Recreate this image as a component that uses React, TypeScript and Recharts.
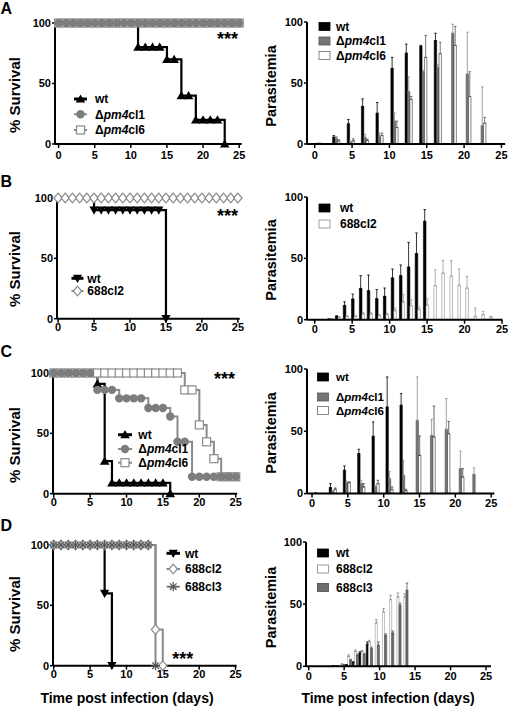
import type { ReactElement } from "react";
import { Bar, ComposedChart, ErrorBar, Line, XAxis, YAxis } from "recharts";

const FONT = "'Liberation Sans', Arial, Helvetica, sans-serif";
const GREY = "#8a8a8a";
const BAR_GREY = "#757575";

const DAY_TICKS = [0, 5, 10, 15, 20, 25];
const PCT_TICKS = [0, 50, 100];

// ---------- survival curves (left column) ----------
const ALL_DAYS = [0, 1, 2, 3, 4, 5, 6, 7, 8, 9, 10, 11, 12, 13, 14, 15, 16, 17, 18, 19, 20, 21, 22, 23, 24, 25];

const aWtDays = [0, 11, 12, 13, 14, 15, 16, 17, 18, 19, 20, 21, 22, 23];
const aWtSurv = [100, 80, 80, 80, 80, 70, 70, 40, 40, 20, 20, 20, 20, 0];
const aCl1Surv = [100, 100, 100, 100, 100, 100, 100, 100, 100, 100, 100, 100, 100, 100, 100, 100, 100, 100, 100, 100, 100, 100, 100, 100, 100, 100];
const aCl6Surv = [100, 100, 100, 100, 100, 100, 100, 100, 100, 100, 100, 100, 100, 100, 100, 100, 100, 100, 100, 100, 100, 100, 100, 100, 100, 100];

const bWtDays = [0, 5, 6, 7, 8, 9, 10, 11, 12, 13, 14, 15];
const bWtSurv = [100, 90, 90, 90, 90, 90, 90, 90, 90, 90, 90, 0];
const b688cl2Surv = [100, 100, 100, 100, 100, 100, 100, 100, 100, 100, 100, 100, 100, 100, 100, 100, 100, 100, 100, 100, 100, 100, 100, 100, 100, 100];

const cWtDays = [0, 6, 7, 8, 9, 10, 11, 12, 13, 14, 15, 16];
const cWtSurv = [100, 91, 27, 9, 9, 9, 9, 9, 9, 9, 9, 0];
const cCl1Surv = [100, 100, 100, 100, 100, 100, 86, 86, 86, 79, 79, 79, 79, 71, 71, 71, 64, 43, 43, 14, 14, 14, 14, 14, 14, 14];
const cCl6Surv = [100, 100, 100, 100, 100, 100, 100, 100, 100, 100, 100, 100, 100, 100, 100, 100, 100, 100, 86, 86, 57, 43, 29, 14, 14, 14];

const dWtDays = [0, 7, 8];
const dWtSurv = [100, 60, 0];
const d688cl2Days = [0, 1, 2, 3, 4, 5, 6, 7, 8, 9, 10, 11, 12, 13, 14, 15];
const d688cl2Surv = [100, 100, 100, 100, 100, 100, 100, 100, 100, 100, 100, 100, 100, 100, 30, 0];
const d688cl3Days = [0, 1, 2, 3, 4, 5, 6, 7, 8, 9, 10, 11, 12, 13, 14];
const d688cl3Surv = [100, 100, 100, 100, 100, 100, 100, 100, 100, 100, 100, 100, 100, 100, 0];

// ---------- parasitemia (right column) ----------
const aParDays = [0.7, 2.95, 4.9, 6.8, 8.75, 10.75, 12.65, 14.6, 16.55, 18.55, 20.5, 22.5];
const aWtPar = [0.3, 5.5, 16.5, 30.8, 25.2, 62, 74.4, 80, 84.8, null, null, null];
const aWtErr = [0.2, 1.4, 3.6, 6.2, 8.8, 9, 7.5, 0.8, 6, null, null, null];
const aCl1Par = [0.5, 4.8, 1.4, 5.5, 6.5, 18.8, 43, 59.5, 63, 90.8, 57.4, 15];
const aCl1Err = [0.3, 1.3, 0.8, 2.5, 2.4, 6.8, 12, 1, 2.2, 7.4, 34.2, 31.8];
const aCl6Par = [0.3, 2.6, 2.6, 2.9, 7, 13.6, 36.4, 71, 74, 80.8, 39, 17];
const aCl6Err = [0.2, 0.8, 1.6, 1, 2, 5.2, 2.5, 18, 9.4, 15.6, 20.2, 4.8];

const bParDays = [2.1, 3.15, 4.2, 5.3, 6.35, 7.4, 8.5, 9.55, 10.6, 11.7, 12.75, 13.8, 14.9, 15.95, 17.0, 18.1, 19.15, 20.2, 21.3, 22.35, 23.4];
const bWtPar = [0.4, 2.7, 11.6, 16.8, 25.5, 23.6, 17.1, 19, 34, 35.9, 42.9, 53.8, 80.2, null, null, null, null, null, null, null, null];
const bWtErr = [0.2, 0.6, 3, 4.1, 10.4, 12.8, 7.4, 6.8, 7.3, 8.7, 20.1, 16.9, 9.5, null, null, null, null, null, null, null, null];
const b688cl2Par = [0.6, 1.9, 2.7, 2.7, 4.6, 4.6, 3.3, 4.1, 7.3, 14.4, 11.4, 8.2, 11.7, 27.7, 38, 35.6, 28, 25.8, 2.7, 4.1, 2.2];
const b688cl2Err = [0.3, 0.5, 0.5, 0.8, 1.4, 1, 1, 1.2, 2.2, 6, 4.9, 2.1, 5.4, 13, 10.4, 12.6, 13.3, 9.5, 6.8, 2.7, 0.5];

const cParDays = [0.9, 2.93, 4.89, 6.9, 8.9, 10.85, 12.8, 14.72, 16.72, 18.77, 20.73, 22.63];
const cWtPar = [0.4, 4.8, 18.7, 32.1, 46, 69.5, 70.9, null, null, null, null, null];
const cWtErr = [0.2, 3.2, 3.5, 3.5, 11.5, 24.1, 9.3, null, null, null, null, null];
const cCl1Par = [null, 1.9, 8.8, 8, 5.3, 12, 14.7, 58.8, 46.8, 51.6, 20, 15.5];
const cCl1Err = [null, 0.5, 1.1, 2.7, 1, 5.9, 12, 34.8, 12.8, 24.6, 14, 5.1];
const cCl6Par = [null, 3.5, 8.8, 5.3, 8, 3.2, 2.4, 30.7, 45.5, 48.1, 13.4, null];
const cCl6Err = [null, 1, 0.6, 2.7, 2.7, 2.1, 1.1, 15.6, 24.8, 9.9, 6.6, null];

const dParDays = [3.75, 4.72, 5.65, 6.6, 7.55, 8.58, 9.55, 10.57, 11.57, 12.6, 13.58];
const dWtPar = [0.3, null, 1, 3, 10.7, 17.7, null, null, null, null, null];
const dWtErr = [0.1, null, 0.4, 0.6, 1, 1.9, null, null, null, null, null];
const d688cl2Par = [0.4, 1.6, 8, 11.8, 12, 19.6, 34.9, 43.7, 53.6, 55.8, 55.8];
const d688cl2Err = [0.2, 0.4, 1.2, 1.4, 0.8, 1.3, 2.6, 2.7, 3.5, 3.2, 2.5];
const d688cl3Par = [0.3, 1.1, 4.8, 8.8, 9.5, 14.2, 16.9, 24.9, 26.8, 49.1, 61.1];
const d688cl3Err = [0.1, 0.3, 0.8, 1, 1, 1.3, 2.7, 1.2, 1.6, 1.8, 5.9];

// ---------- layout helpers ----------
type Geo = { left: number; right: number; top: number; bottom: number; x0: number; x1: number; tickGap: number };

const PAD_L = 50;
const PAD_T = 12;
const PAD_R = 12;
const PAD_B = 30;

const geoA1: Geo = { left: 55, right: 241.7, top: 23.3, bottom: 144.3, x0: -0.5, x1: 25.35, tickGap: 3 };
const geoB1: Geo = { left: 57.3, right: 240, top: 198.3, bottom: 319, x0: -0.15, x1: 25.25, tickGap: 1 };
const geoC1: Geo = { left: 53.3, right: 237.5, top: 373.3, bottom: 494, x0: -0.1, x1: 25.2, tickGap: 1 };
const geoD1: Geo = { left: 52.7, right: 236.3, top: 545, bottom: 665.7, x0: -0.1, x1: 25.15, tickGap: 1 };
const geoA2: Geo = { left: 307.3, right: 505.5, top: 22, bottom: 144, x0: -1.03, x1: 25.5, tickGap: 3 };
const geoB2: Geo = { left: 307.3, right: 502.7, top: 197.3, bottom: 320, x0: -1.03, x1: 25.05, tickGap: 2 };
const geoC2: Geo = { left: 307.3, right: 494.7, top: 368.7, bottom: 493.3, x0: -0.7, x1: 25.45, tickGap: 2 };
const geoD2: Geo = { left: 306.3, right: 491.3, top: 541.7, bottom: 666, x0: -0.38, x1: 25.7, tickGap: 2 };

function chartBox(g: Geo) {
  return {
    style: { position: "absolute" as const, left: g.left - PAD_L, top: g.top - PAD_T },
    width: g.right - g.left + PAD_L + PAD_R,
    height: g.bottom - g.top + PAD_T + PAD_B,
    margin: { top: PAD_T, right: PAD_R, bottom: 0, left: 0 },
  };
}

const axisStroke = { stroke: "#000", strokeWidth: 2 };
const tickStroke = { stroke: "#000", strokeWidth: 1.5 };
const tickFont = { fill: "#000", fontSize: 11, fontWeight: 700, fontFamily: FONT };

function xAxisFor(g: Geo) {
  return (
    <XAxis
      axisLine={axisStroke}
      dataKey="x"
      domain={[g.x0, g.x1]}
      height={PAD_B}
      interval={0}
      tick={tickFont}
      tickLine={tickStroke}
      tickMargin={g.tickGap}
      tickSize={4}
      ticks={DAY_TICKS}
      type="number"
    />
  );
}

function yAxisFor() {
  return (
    <YAxis
      axisLine={axisStroke}
      domain={[0, 100]}
      interval={0}
      tick={tickFont}
      tickLine={tickStroke}
      tickMargin={1}
      tickSize={3}
      ticks={PCT_TICKS}
      type="number"
      width={PAD_L}
    />
  );
}

// ---------- markers ----------
type Shape = "tri" | "triDown" | "circle" | "square" | "diamond" | "star";

function Marker({ shape, cx, cy, color }: { shape: Shape; cx: number; cy: number; color: string }) {
  switch (shape) {
    case "tri":
      return <path d={`M${cx},${cy - 4.6}L${cx + 4.8},${cy + 3.6}L${cx - 4.8},${cy + 3.6}Z`} fill={color} />;
    case "triDown":
      return <path d={`M${cx},${cy + 4.6}L${cx + 4.6},${cy - 3.6}L${cx - 4.6},${cy - 3.6}Z`} fill={color} />;
    case "circle":
      return <circle cx={cx} cy={cy} fill={color} r={4.2} />;
    case "square":
      return <rect fill="#fff" height={8} stroke={color} strokeWidth={1.2} width={8} x={cx - 4} y={cy - 4} />;
    case "diamond":
      return (
        <path
          d={`M${cx},${cy - 4.8}L${cx + 4.2},${cy}L${cx},${cy + 4.8}L${cx - 4.2},${cy}Z`}
          fill="#fff"
          stroke={color}
          strokeWidth={1.2}
        />
      );
    default:
      return (
        <g stroke={color} strokeWidth={1.2}>
          <line x1={cx - 4.6} x2={cx + 4.6} y1={cy} y2={cy} />
          <line x1={cx} x2={cx} y1={cy - 4.6} y2={cy + 4.6} />
          <line x1={cx - 3.3} x2={cx + 3.3} y1={cy - 3.3} y2={cy + 3.3} />
          <line x1={cx - 3.3} x2={cx + 3.3} y1={cy + 3.3} y2={cy - 3.3} />
        </g>
      );
  }
}

// ---------- survival chart ----------
type Curve = {
  name: string;
  days: number[];
  surv: number[];
  color: string;
  width: number;
  shape: Shape;
  markerColor: string;
  skipFirst?: boolean;
};

function SurvivalChart({ g, curves }: { g: Geo; curves: Curve[] }) {
  const box = chartBox(g);

  return (
    <div style={box.style}>
      <ComposedChart height={box.height} margin={box.margin} width={box.width}>
        {xAxisFor(g)}
        {yAxisFor()}
        {curves.map((c) => (
          <Line
            activeDot={false}
            data={c.days.map((x, i) => ({ x, y: c.surv[i] }))}
            dataKey="y"
            dot={(p: any): ReactElement => {
              if (c.skipFirst && p.index === 0) {
                return <g key={`${c.name}-${p.index}`} />;
              }
              return <Marker key={`${c.name}-${p.index}`} color={c.markerColor} cx={p.cx} cy={p.cy} shape={c.shape} />;
            }}
            isAnimationActive={false}
            key={c.name}
            stroke={c.color}
            strokeWidth={c.width}
            type="stepAfter"
          />
        ))}
      </ComposedChart>
    </div>
  );
}

// ---------- parasitemia chart ----------
type BarSeries = { key: string; values: (number | null)[]; errors: (number | null)[]; fill: string; stroke: string; errColor: string };

function ParasitemiaChart({ g, days, series, barSize }: { g: Geo; days: number[]; series: BarSeries[]; barSize: number }) {
  const box = chartBox(g);
  const rows = days.map((x, i) => {
    const row: Record<string, unknown> = { x };
    series.forEach((s) => {
      row[s.key] = s.values[i];
      row[`${s.key}Err`] = s.errors[i] == null ? undefined : [0, s.errors[i]];
    });
    return row;
  });

  return (
    <div style={box.style}>
      <ComposedChart barGap={0} barSize={barSize} data={rows} height={box.height} margin={box.margin} width={box.width}>
        {xAxisFor(g)}
        {yAxisFor()}
        {series.map((s) => (
          <Bar dataKey={s.key} fill={s.fill} isAnimationActive={false} key={s.key} stroke={s.stroke} strokeWidth={0.6}>
            <ErrorBar dataKey={`${s.key}Err`} direction="y" stroke={s.errColor} strokeWidth={0.8} width={1.3} />
          </Bar>
        ))}
      </ComposedChart>
    </div>
  );
}

// ---------- overlay text ----------
type Piece = [string, boolean];
const WT: Piece[] = [["wt", false]];
const CL1: Piece[] = [["Δ", false], ["pm4", true], ["cl1", false]];
const CL6: Piece[] = [["Δ", false], ["pm4", true], ["cl6", false]];
const P688CL2: Piece[] = [["688cl2", false]];
const P688CL3: Piece[] = [["688cl3", false]];

const bold = { fontFamily: FONT, fontWeight: 700, fill: "#000" };

function Label({ x, y, pieces, size = 12 }: { x: number; y: number; pieces: Piece[]; size?: number }) {
  return (
    <text {...bold} fontSize={size} x={x} y={y + size * 0.36}>
      {pieces.map(([t, it], i) => (
        <tspan fontStyle={it ? "italic" : "normal"} key={i}>
          {t}
        </tspan>
      ))}
    </text>
  );
}

type SurvRow = { y: number; shape: Shape; color: string; lineColor: string; lineWidth: number; label: Piece[] };

function SurvivalLegend({ x1, x2, tx, rows }: { x1: number; x2: number; tx: number; rows: SurvRow[] }) {
  return (
    <g>
      {rows.map((r, i) => (
        <g key={i}>
          <line stroke={r.lineColor} strokeWidth={r.lineWidth} x1={x1} x2={x2} y1={r.y} y2={r.y} />
          <Marker color={r.color} cx={(x1 + x2) / 2} cy={r.y} shape={r.shape} />
          <Label pieces={r.label} x={tx} y={r.y} />
        </g>
      ))}
    </g>
  );
}

type BarRow = { y: number; fill: string; stroke: string; label: Piece[] };

function BarLegend({ x, tx, rows, size = 12 }: { x: number; tx: number; rows: BarRow[]; size?: number }) {
  return (
    <g>
      {rows.map((r, i) => (
        <g key={i}>
          <rect fill={r.fill} height={8} stroke={r.stroke} strokeWidth={0.8} width={11} x={x} y={r.y - 4} />
          <Label pieces={r.label} size={size} x={tx} y={r.y} />
        </g>
      ))}
    </g>
  );
}

function YTitle({ x, y, text, size }: { x: number; y: number; text: string; size: number }) {
  return (
    <text {...bold} fontSize={size} textAnchor="middle" transform={`translate(${x},${y}) rotate(-90)`}>
      {text}
    </text>
  );
}

export default function App() {
  const wtLine = { color: "#000", lineColor: "#000", lineWidth: 3 };

  return (
    <div style={{ position: "absolute", left: 0, top: 0, width: 508, height: 710, background: "#fff", fontFamily: FONT }}>
      <SurvivalChart
        curves={[
          { name: "wt", days: aWtDays, surv: aWtSurv, color: "#000", width: 2.2, shape: "tri", markerColor: "#000", skipFirst: true },
          { name: "cl6", days: ALL_DAYS, surv: aCl6Surv, color: GREY, width: 2, shape: "square", markerColor: GREY },
          { name: "cl1", days: ALL_DAYS, surv: aCl1Surv, color: GREY, width: 2, shape: "circle", markerColor: "#7d7d7d" },
        ]}
        g={geoA1}
      />
      <SurvivalChart
        curves={[
          { name: "wt", days: bWtDays, surv: bWtSurv, color: "#000", width: 2.2, shape: "triDown", markerColor: "#000", skipFirst: true },
          { name: "688cl2", days: ALL_DAYS, surv: b688cl2Surv, color: GREY, width: 2, shape: "diamond", markerColor: GREY },
        ]}
        g={geoB1}
      />
      <SurvivalChart
        curves={[
          { name: "wt", days: cWtDays, surv: cWtSurv, color: "#000", width: 2.2, shape: "tri", markerColor: "#000", skipFirst: true },
          { name: "cl6", days: ALL_DAYS, surv: cCl6Surv, color: GREY, width: 2, shape: "square", markerColor: GREY },
          { name: "cl1", days: ALL_DAYS, surv: cCl1Surv, color: GREY, width: 2, shape: "circle", markerColor: "#7d7d7d" },
        ]}
        g={geoC1}
      />
      <SurvivalChart
        curves={[
          { name: "wt", days: dWtDays, surv: dWtSurv, color: "#000", width: 2.2, shape: "triDown", markerColor: "#000", skipFirst: true },
          { name: "688cl2", days: d688cl2Days, surv: d688cl2Surv, color: GREY, width: 2, shape: "diamond", markerColor: GREY },
          { name: "688cl3", days: d688cl3Days, surv: d688cl3Surv, color: GREY, width: 2, shape: "star", markerColor: "#555" },
        ]}
        g={geoD1}
      />

      <ParasitemiaChart
        barSize={2.4}
        days={aParDays}
        g={geoA2}
        series={[
          { key: "wt", values: aWtPar, errors: aWtErr, fill: "#000", stroke: "#000", errColor: "#000" },
          { key: "cl1", values: aCl1Par, errors: aCl1Err, fill: BAR_GREY, stroke: "#555", errColor: "#8a8a8a" },
          { key: "cl6", values: aCl6Par, errors: aCl6Err, fill: "#fff", stroke: "#333", errColor: "#555" },
        ]}
      />
      <ParasitemiaChart
        barSize={2.6}
        days={bParDays}
        g={geoB2}
        series={[
          { key: "wt", values: bWtPar, errors: bWtErr, fill: "#000", stroke: "#000", errColor: "#000" },
          { key: "cl2", values: b688cl2Par, errors: b688cl2Err, fill: "#fff", stroke: "#8a8a8a", errColor: "#999" },
        ]}
      />
      <ParasitemiaChart
        barSize={2.4}
        days={cParDays}
        g={geoC2}
        series={[
          { key: "wt", values: cWtPar, errors: cWtErr, fill: "#000", stroke: "#000", errColor: "#000" },
          { key: "cl1", values: cCl1Par, errors: cCl1Err, fill: BAR_GREY, stroke: "#555", errColor: "#8a8a8a" },
          { key: "cl6", values: cCl6Par, errors: cCl6Err, fill: "#fff", stroke: "#333", errColor: "#444" },
        ]}
      />
      <ParasitemiaChart
        barSize={2.1}
        days={dParDays}
        g={geoD2}
        series={[
          { key: "wt", values: dWtPar, errors: dWtErr, fill: "#000", stroke: "#000", errColor: "#000" },
          { key: "cl2", values: d688cl2Par, errors: d688cl2Err, fill: "#fff", stroke: "#999", errColor: "#888" },
          { key: "cl3", values: d688cl3Par, errors: d688cl3Err, fill: "#6e6e6e", stroke: "#4a4a4a", errColor: "#555" },
        ]}
      />

      <svg height={710} style={{ position: "absolute", left: 0, top: 0, pointerEvents: "none" }} width={508}>
        <text {...bold} fontSize={16} x={0.5} y={14}>A</text>
        <text {...bold} fontSize={16} x={0.5} y={187}>B</text>
        <text {...bold} fontSize={16} x={0.5} y={357}>C</text>
        <text {...bold} fontSize={16} x={0.5} y={531}>D</text>

        <YTitle size={15} text="% Survival" x={19.5} y={95} />
        <YTitle size={15} text="% Survival" x={19.5} y={269} />
        <YTitle size={15} text="% Survival" x={19.5} y={445} />
        <YTitle size={15} text="% Survival" x={19.5} y={614} />
        <YTitle size={14.5} text="Parasitemia" x={276} y={86} />
        <YTitle size={14.5} text="Parasitemia" x={276} y={260} />
        <YTitle size={14.5} text="Parasitemia" x={276} y={433} />
        <YTitle size={14.5} text="Parasitemia" x={276} y={607.5} />

        <text {...bold} fontSize={18} textAnchor="end" x={238} y={45}>***</text>
        <text {...bold} fontSize={18} textAnchor="end" x={238} y={222}>***</text>
        <text {...bold} fontSize={18} textAnchor="end" x={235} y={385}>***</text>
        <text {...bold} fontSize={18} textAnchor="end" x={193.3} y={665}>***</text>

        <text {...bold} fontSize={14} textAnchor="middle" x={127} y={703}>Time post infection (days)</text>
        <text {...bold} fontSize={14} textAnchor="middle" x={388} y={703}>Time post infection (days)</text>

        <SurvivalLegend
          rows={[
            { y: 99, shape: "tri", ...wtLine, label: WT },
            { y: 114.3, shape: "circle", color: "#7d7d7d", lineColor: GREY, lineWidth: 2, label: CL1 },
            { y: 130, shape: "square", color: GREY, lineColor: GREY, lineWidth: 2, label: CL6 },
          ]}
          tx={95}
          x1={74}
          x2={87}
        />
        <SurvivalLegend
          rows={[
            { y: 278.3, shape: "triDown", ...wtLine, label: WT },
            { y: 291, shape: "diamond", color: GREY, lineColor: GREY, lineWidth: 2, label: P688CL2 },
          ]}
          tx={87.3}
          x1={71.5}
          x2={83.5}
        />
        <SurvivalLegend
          rows={[
            { y: 434.7, shape: "tri", ...wtLine, label: WT },
            { y: 449, shape: "circle", color: "#7d7d7d", lineColor: GREY, lineWidth: 2, label: CL1 },
            { y: 462.7, shape: "square", color: GREY, lineColor: GREY, lineWidth: 2, label: CL6 },
          ]}
          tx={138.3}
          x1={118}
          x2={132}
        />
        <SurvivalLegend
          rows={[
            { y: 553.3, shape: "triDown", ...wtLine, label: WT },
            { y: 569, shape: "diamond", color: GREY, lineColor: GREY, lineWidth: 2, label: P688CL2 },
            { y: 586.7, shape: "star", color: "#555", lineColor: GREY, lineWidth: 2, label: P688CL3 },
          ]}
          tx={185}
          x1={166.5}
          x2={180}
        />

        <BarLegend
          rows={[
            { y: 26.5, fill: "#000", stroke: "#000", label: WT },
            { y: 41, fill: BAR_GREY, stroke: "#555", label: CL1 },
            { y: 55.5, fill: "#fff", stroke: "#666", label: CL6 },
          ]}
          tx={336}
          x={319}
        />
        <BarLegend
          rows={[
            { y: 208, fill: "#000", stroke: "#000", label: WT },
            { y: 224, fill: "#fff", stroke: "#888", label: P688CL2 },
          ]}
          tx={340}
          x={319}
        />
        <BarLegend
          rows={[
            { y: 377, fill: "#000", stroke: "#000", label: WT },
            { y: 397, fill: BAR_GREY, stroke: "#555", label: CL1 },
            { y: 410.5, fill: "#fff", stroke: "#666", label: CL6 },
          ]}
          size={11.5}
          tx={336}
          x={317.5}
        />
        <BarLegend
          rows={[
            { y: 553, fill: "#000", stroke: "#000", label: WT },
            { y: 569, fill: "#fff", stroke: "#888", label: P688CL2 },
            { y: 587.5, fill: "#6e6e6e", stroke: "#4a4a4a", label: P688CL3 },
          ]}
          tx={336}
          x={317.5}
        />
      </svg>
    </div>
  );
}
